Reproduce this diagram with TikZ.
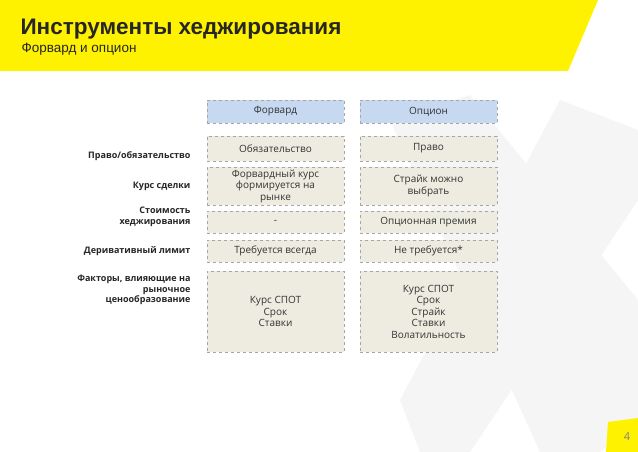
\documentclass[tikz,border=0pt]{standalone}
\usepackage{fontspec}
\setmainfont{Open Sans}
\newfontfamily\arialf{Liberation Sans}
\begin{document}
\begin{tikzpicture}[x=1pt,y=-1pt,
  cell/.style={draw=gray!70,dashed,fill=beige,minimum width=137pt,align=center,font=\fontsize{10}{11.5}\selectfont,inner sep=1pt,text=black!80},
  hcell/.style={cell,fill=hblue},
  lab/.style={anchor=east,align=right,font=\bfseries\fontsize{9}{10.5}\selectfont,text=black!85}]
\definecolor{beige}{HTML}{EEECE1}
\definecolor{hblue}{HTML}{C6D9F1}
\definecolor{yel}{HTML}{FFF200}
\definecolor{bgx}{HTML}{F5F5F5}
\useasboundingbox (0,0) rectangle (638,452);
\fill[white] (0,0) rectangle (638,452);
% background X
\fill[bgx] (390,120) -- (470,95) -- (638,300) -- (638,420) -- (600,452) -- (540,452) -- cycle;
\fill[bgx] (560,100) -- (638,130) -- (638,200) -- (470,452) -- (420,452) -- (400,400) -- cycle;
% banner
\fill[yel] (0,0) -- (598,0) -- (568,71) -- (0,71) -- cycle;
\node[anchor=west,font=\arialf\bfseries\fontsize{22.5}{25}\selectfont,text=black!85] (title) at (17,29) {Инструменты хеджирования};
\node[anchor=west,font=\arialf\fontsize{13.5}{15}\selectfont,text=black!85] (sub) at (18,49) {Форвард и опцион};
% headers
\node[hcell,minimum height=23pt] (hf) at (275.5,111.5) {Форвард};
\node[hcell,minimum height=23pt] (ho) at (428.5,111.5) {Опцион};
\node[cell,minimum height=25pt] (f1) at (275.5,148.5) {Обязательство};
\node[cell,minimum height=25pt] (o1) at (428.5,148.5) {Право};
\node[cell,minimum height=38pt] (f2) at (275.5,186) {Форвардный курс\\формируется на\\рынке};
\node[cell,minimum height=38pt] (o2) at (428.5,186) {Страйк можно\\выбрать};
\node[cell,minimum height=22pt] (f3) at (275.5,222) {-};
\node[cell,minimum height=22pt] (o3) at (428.5,222) {Опционная премия};
\node[cell,minimum height=22pt] (f4) at (275.5,251) {Требуется всегда};
\node[cell,minimum height=22pt] (o4) at (428.5,251) {Не требуется*};
\node[cell,minimum height=81pt] (f5) at (275.5,311.5) {Курс СПОТ\\Срок\\Ставки};
\node[cell,minimum height=81pt] (o5) at (428.5,311.5) {Курс СПОТ\\Срок\\Страйк\\Ставки\\Волатильность};
% labels
\node[lab] (l1) at (194,156) {Право/обязательство};
\node[lab] (l2) at (194,186) {Курс сделки};
\node[lab] (l3) at (194,217) {Стоимость\\хеджирования};
\node[lab] (l4) at (194,251) {Деривативный лимит};
\node[lab] (l5) at (194,290) {Факторы, влияющие на\\рыночное\\ценообразование};
% page number
\fill[yel] (608,422) -- (638,418) -- (638,452) -- (606,452) -- cycle;
\node[font=\fontsize{11}{12}\selectfont,text=gray] (pg) at (627,437) {4};
\end{tikzpicture}
\end{document}
